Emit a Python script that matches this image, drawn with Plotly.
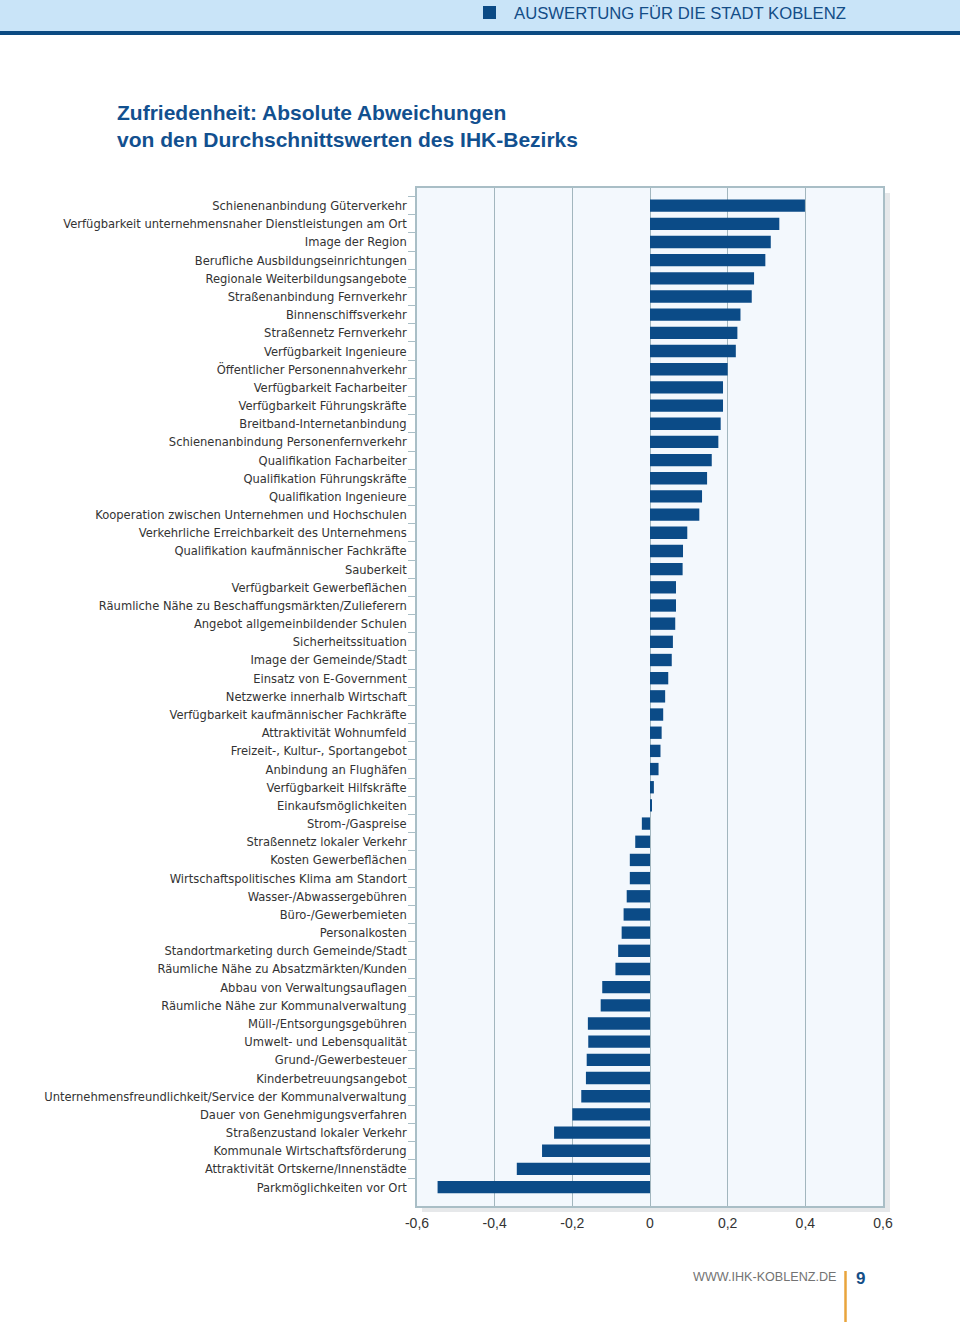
import plotly.graph_objects as go

categories = [
    "Schienenanbindung Güterverkehr",
    "Verfügbarkeit unternehmensnaher Dienstleistungen am Ort",
    "Image der Region",
    "Berufliche Ausbildungseinrichtungen",
    "Regionale Weiterbildungsangebote",
    "Straßenanbindung Fernverkehr",
    "Binnenschiffsverkehr",
    "Straßennetz Fernverkehr",
    "Verfügbarkeit Ingenieure",
    "Öffentlicher Personennahverkehr",
    "Verfügbarkeit Facharbeiter",
    "Verfügbarkeit Führungskräfte",
    "Breitband-Internetanbindung",
    "Schienenanbindung Personenfernverkehr",
    "Qualifikation Facharbeiter",
    "Qualifikation Führungskräfte",
    "Qualifikation Ingenieure",
    "Kooperation zwischen Unternehmen und Hochschulen",
    "Verkehrliche Erreichbarkeit des Unternehmens",
    "Qualifikation kaufmännischer Fachkräfte",
    "Sauberkeit",
    "Verfügbarkeit Gewerbeflächen",
    "Räumliche Nähe zu Beschaffungsmärkten/Zulieferern",
    "Angebot allgemeinbildender Schulen",
    "Sicherheitssituation",
    "Image der Gemeinde/Stadt",
    "Einsatz von E-Government",
    "Netzwerke innerhalb Wirtschaft",
    "Verfügbarkeit kaufmännischer Fachkräfte",
    "Attraktivität Wohnumfeld",
    "Freizeit-, Kultur-, Sportangebot",
    "Anbindung an Flughäfen",
    "Verfügbarkeit Hilfskräfte",
    "Einkaufsmöglichkeiten",
    "Strom-/Gaspreise",
    "Straßennetz lokaler Verkehr",
    "Kosten Gewerbeflächen",
    "Wirtschaftspolitisches Klima am Standort",
    "Wasser-/Abwassergebühren",
    "Büro-/Gewerbemieten",
    "Personalkosten",
    "Standortmarketing durch Gemeinde/Stadt",
    "Räumliche Nähe zu Absatzmärkten/Kunden",
    "Abbau von Verwaltungsauflagen",
    "Räumliche Nähe zur Kommunalverwaltung",
    "Müll-/Entsorgungsgebühren",
    "Umwelt- und Lebensqualität",
    "Grund-/Gewerbesteuer",
    "Kinderbetreuungsangebot",
    "Unternehmensfreundlichkeit/Service der Kommunalverwaltung",
    "Dauer von Genehmigungsverfahren",
    "Straßenzustand lokaler Verkehr",
    "Kommunale Wirtschaftsförderung",
    "Attraktivität Ortskerne/Innenstädte",
    "Parkmöglichkeiten vor Ort",
]

values = [
    0.399, 0.333, 0.311, 0.297, 0.268, 0.262, 0.233, 0.225, 0.221, 0.200,
    0.188, 0.188, 0.182, 0.176, 0.159, 0.147, 0.134, 0.127, 0.096, 0.085,
    0.084, 0.067, 0.067, 0.065, 0.059, 0.056, 0.047, 0.039, 0.034, 0.030,
    0.027, 0.022, 0.010, 0.005, -0.021, -0.038, -0.052, -0.052, -0.060, -0.068,
    -0.073, -0.082, -0.089, -0.123, -0.127, -0.160, -0.159, -0.163, -0.165, -0.177,
    -0.200, -0.247, -0.278, -0.343, -0.547,
]

x_tickvals = [-0.6, -0.4, -0.2, 0, 0.2, 0.4, 0.6]
x_ticktext = ["-0,6", "-0,4", "-0,2", "0", "0,2", "0,4", "0,6"]

header_text = "AUSWERTUNG FÜR DIE STADT KOBLENZ"
title_lines = ["Zufriedenheit: Absolute Abweichungen",
               "von den Durchschnittswerten des IHK-Bezirks"]
footer_url = "WWW.IHK-KOBLENZ.DE"
page_number = "9"

W, H = 960, 1322
PL, PR, PT, PB = 417, 883, 188, 1206

def fx(px):
    return (px - PL) / (PR - PL)

def fy(py):
    return (PB - py) / (PB - PT)

LABEL_FONT = "DejaVu Sans Condensed, Liberation Sans, sans-serif"
BAR_COLOR = "#0b4b87"
GRID_COLOR = "#a2b6be"

fig = go.Figure()
fig.add_trace(go.Bar(
    x=values, y=categories, orientation="h",
    marker=dict(color=BAR_COLOR, line=dict(width=0)),
    hoverinfo="x+y",
))

shapes = [
    # header band
    dict(type="rect", xref="paper", yref="paper", x0=fx(0), x1=fx(W), y0=fy(0), y1=fy(31),
         fillcolor="#c9e4f8", line=dict(width=0), layer="below"),
    dict(type="rect", xref="paper", yref="paper", x0=fx(0), x1=fx(W), y0=fy(31), y1=fy(35),
         fillcolor="#0b4a82", line=dict(width=0), layer="below"),
    dict(type="rect", xref="paper", yref="paper", x0=fx(483), x1=fx(496), y0=fy(6), y1=fy(19),
         fillcolor="#0b4a85", line=dict(width=0), layer="below"),
    # plot shadow
    dict(type="rect", xref="paper", yref="paper", x0=fx(884), x1=fx(890), y0=fy(193), y1=fy(1212),
         fillcolor="#e6e8ea", line=dict(width=0), layer="below"),
    dict(type="rect", xref="paper", yref="paper", x0=fx(422), x1=fx(884), y0=fy(1207), y1=fy(1212),
         fillcolor="#e6e8ea", line=dict(width=0), layer="below"),
    # footer orange line
    dict(type="line", xref="paper", yref="paper", x0=fx(845.5), x1=fx(845.5), y0=fy(1271), y1=fy(1322),
         line=dict(color="#e9a43c", width=2.5)),
]

annotations = [
    dict(text=header_text, xref="paper", yref="paper", x=fx(512), y=fy(13),
         xanchor="left", yanchor="middle", showarrow=False,
         font=dict(family="Liberation Sans, sans-serif", size=16.7, color="#134d87")),
    dict(text=title_lines[0], xref="paper", yref="paper", x=fx(115), y=fy(112),
         xanchor="left", yanchor="middle", showarrow=False,
         font=dict(family="Liberation Sans, sans-serif", size=21, color="#12508f", weight="bold")),
    dict(text=title_lines[1], xref="paper", yref="paper", x=fx(115), y=fy(139),
         xanchor="left", yanchor="middle", showarrow=False,
         font=dict(family="Liberation Sans, sans-serif", size=21, color="#12508f", weight="bold")),
    dict(text=footer_url, xref="paper", yref="paper", x=fx(838), y=fy(1277),
         xanchor="right", yanchor="middle", showarrow=False,
         font=dict(family="Liberation Sans, sans-serif", size=12.6, color="#737373")),
    dict(text=page_number, xref="paper", yref="paper", x=fx(854), y=fy(1278),
         xanchor="left", yanchor="middle", showarrow=False,
         font=dict(family="Liberation Sans, sans-serif", size=17, color="#154f87", weight="bold")),
]

fig.update_layout(
    width=W, height=H,
    margin=dict(l=PL, r=W - PR, t=PT, b=H - PB, pad=0, autoexpand=False),
    paper_bgcolor="white",
    plot_bgcolor="#f3f8fd",
    bargap=0.32,
    showlegend=False,
    shapes=shapes,
    annotations=annotations,
    font=dict(family=LABEL_FONT, color="#333333"),
)

fig.update_xaxes(
    automargin=False,
    range=[-0.6, 0.6],
    tickvals=x_tickvals, ticktext=x_ticktext,
    ticks="outside", ticklen=3, tickcolor="rgba(0,0,0,0)",
    tickfont=dict(family="Liberation Sans, sans-serif", size=14, color="#333333"),
    showgrid=True, gridcolor=GRID_COLOR, gridwidth=1.3,
    zeroline=False,
    showline=True, mirror=True, linecolor="#a9bec6", linewidth=1.5,
)

fig.update_yaxes(
    automargin=False,
    type="category",
    categoryorder="array", categoryarray=categories,
    range=[len(categories) - 1 + 1.04, -0.97],
    tickson="boundaries",
    ticks="outside", ticklen=7, tickcolor="#a9bec6", tickwidth=1.2,
    ticklabelstandoff=6,
    tickfont=dict(family=LABEL_FONT, size=12.8, color="#333333"),
    showgrid=False, zeroline=False,
    showline=True, mirror=True, linecolor="#a9bec6", linewidth=1.5,
)

fig.write_html(
    "out.html",
    config={"displayModeBar": False},
    post_script="document.body.style.margin='0';document.body.style.overflow='hidden';",
)
